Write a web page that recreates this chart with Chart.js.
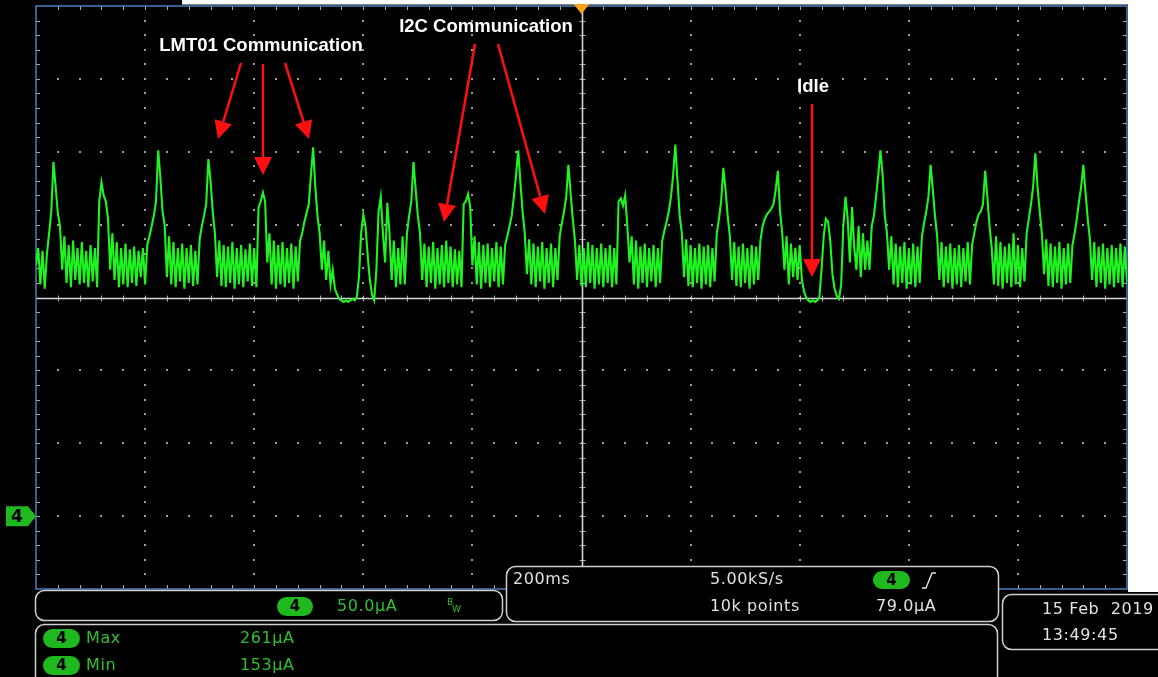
<!DOCTYPE html>
<html>
<head>
<meta charset="utf-8">
<script src="https://cdn.jsdelivr.net/npm/chart.js@4.4.1/dist/chart.umd.min.js"></script>
<style>
  html, body { margin: 0; padding: 0; background: #ffffff; overflow: hidden; }
  canvas { display: block; }
</style>
</head>
<body>
<canvas id="scope" width="1158" height="677"></canvas>
<script>
// Channel 4 supply current (µA), one sample every 4 ms, 200 ms per division
const SAMPLE_MS = 4;
const trace0 = [178,190,165,188,162,186,200,215,249,232, 214,205,175,198,166,192,163,195,168,190, 165,194,166,188,163,192,167,190,163,222, 235,226,222,210,175,200,168,194,163,190, 165,193,163,189,166,191,164,188,170,190];
const trace1 = [165,192,198,205,212,222,257,238,215,205, 170,198,165,194,163,190,167,193,162,190, 166,192,164,188,165,196,205,212,220,251, 236,215,200,170,195,164,192,163,191,166, 194,162,190,165,192,163,189,167,193,164];
const trace2 = [190,163,218,222,228,222,180,200,165,195, 162,192,165,194,163,190,166,193,162,191, 167,195,200,208,214,220,240,259,232,212, 200,175,195,168,188,165,175,162,158,155, 154,153,154,153,154,155,154,156,170,200];
const trace3 = [213,205,185,168,158,154,175,215,225,200, 180,221,200,168,195,163,190,165,198,165, 200,212,222,249,230,212,200,168,193,163, 191,166,194,162,190,165,192,163,195,166, 191,163,189,165,188,163,220,222,227,218];
const trace4 = [178,198,165,194,162,192,166,193,163,190, 167,194,163,191,165,192,198,205,212,225, 240,257,235,215,200,172,196,165,193,163, 191,167,194,162,190,166,193,163,190,168, 198,207,215,225,247,228,210,195,168,192];
const trace5 = [164,190,163,194,166,192,162,190,165,193, 163,190,166,192,163,190,165,222,224,219, 226,205,180,198,165,195,162,191,166,193, 163,190,167,192,163,190,166,195,202,208, 215,225,240,261,236,212,200,170,196,164];
const trace6 = [192,163,190,166,193,162,191,165,192,163, 190,167,200,210,222,245,230,212,198,168, 194,164,191,163,193,166,190,162,192,165, 191,168,195,205,210,213,215,217,220,230, 243,215,200,175,198,165,193,170,190,168];
const trace7 = [192,168,160,156,154,153,154,153,154,156, 175,198,210,208,195,172,162,157,155,165, 205,225,210,180,218,190,175,205,170,200, 175,195,175,205,212,225,240,257,240,212, 200,175,198,165,193,163,191,166,194,162];
const trace8 = [190,165,193,163,191,166,198,207,215,225, 247,230,212,198,168,194,163,191,166,193, 162,190,165,192,163,190,167,194,165,192, 200,208,213,215,220,243,225,205,190,165, 198,164,194,162,191,166,193,163,200,165];
const trace9 = [192,163,190,167,200,210,220,232,255,232, 215,200,172,196,164,193,163,191,166,194, 162,190,165,193,166,192,200,210,222,232, 247,228,210,196,168,194,163,191,166,193, 162,190,165,192,163,190,166,193,163,191, 166];

// Front-panel settings
const TIME_PER_DIV = 200;   // ms
const X_DIVS = 10;
const UA_PER_DIV = 50;      // µA
const Y_DIVS = 8;
const Y_BOTTOM = -44;       // µA at the bottom graticule line
const TIMEBASE_LABEL = '200ms';
const SAMPLE_RATE_LABEL = '5.00kS/s';
const RECORD_LABEL = '10k points';
const SCALE_LABEL = '50.0µA';
const TRIGGER_LABEL = '79.0µA';
const DATE_LABEL = '15 Feb  2019';
const TIME_LABEL = '13:49:45';

const samples = [].concat(trace0, trace1, trace2, trace3, trace4, trace5, trace6, trace7, trace8, trace9);
const points = samples.map((v, i) => ({ x: i * SAMPLE_MS, y: v }));
const maxUA = Math.max(...samples);
const minUA = Math.min(...samples);

const FONT_UI = '"DejaVu Sans", sans-serif';
const FONT_NOTE = '"Liberation Sans", Arial, sans-serif';
const GREEN_TXT = '#2fc02f';
const GREEN_PILL = '#1fb81f';
const FRAME = '#cfcfcf';

function roundRect(ctx, x, y, w, h, r) {
  ctx.beginPath();
  ctx.moveTo(x + r, y);
  ctx.lineTo(x + w - r, y);
  ctx.arcTo(x + w, y, x + w, y + r, r);
  ctx.lineTo(x + w, y + h - r);
  ctx.arcTo(x + w, y + h, x + w - r, y + h, r);
  ctx.lineTo(x + r, y + h);
  ctx.arcTo(x, y + h, x, y + h - r, r);
  ctx.lineTo(x, y + r);
  ctx.arcTo(x, y, x + r, y, r);
  ctx.closePath();
}

function panel(ctx, x, y, w, h) {
  roundRect(ctx, x, y, w, h, 9);
  ctx.fillStyle = '#000';
  ctx.fill();
  ctx.strokeStyle = FRAME;
  ctx.lineWidth = 1.5;
  ctx.stroke();
}

function pill(ctx, x, y, w, h, label) {
  roundRect(ctx, x, y, w, h, h / 2);
  ctx.fillStyle = GREEN_PILL;
  ctx.fill();
  ctx.fillStyle = '#000';
  ctx.font = 'bold 15px ' + FONT_UI;
  ctx.textAlign = 'center';
  ctx.textBaseline = 'middle';
  ctx.fillText(label, x + w / 2, y + h / 2 + 1);
}

function uiText(ctx, s, x, y, color) {
  ctx.fillStyle = color;
  ctx.font = '16px ' + FONT_UI;
  ctx.textAlign = 'left';
  ctx.textBaseline = 'middle';
  ctx.letterSpacing = '0.6px';
  ctx.fillText(s, x, y);
  ctx.letterSpacing = '0px';
}

function arrow(ctx, x1, y1, x2, y2) {
  const ang = Math.atan2(y2 - y1, x2 - x1);
  const len = 18, half = 9;
  const bx = x2 - len * Math.cos(ang), by = y2 - len * Math.sin(ang);
  ctx.strokeStyle = '#ff1010';
  ctx.fillStyle = '#ff1010';
  ctx.lineWidth = 2.5;
  ctx.beginPath();
  ctx.moveTo(x1, y1);
  ctx.lineTo(bx, by);
  ctx.stroke();
  ctx.beginPath();
  ctx.moveTo(x2, y2);
  ctx.lineTo(bx + half * Math.sin(ang), by - half * Math.cos(ang));
  ctx.lineTo(bx - half * Math.sin(ang), by + half * Math.cos(ang));
  ctx.closePath();
  ctx.fill();
}

const screenPlugin = {
  id: 'screen',
  beforeDraw(chart) {
    const ctx = chart.ctx;
    const a = chart.chartArea;
    const L = a.left, R = a.right, T = a.top, B = a.bottom;
    const dx = (R - L) / X_DIVS, dy = (B - T) / Y_DIVS;
    ctx.save();
    ctx.fillStyle = '#000';
    ctx.fillRect(0, 0, chart.width, chart.height);
    // page margin around the captured screen
    ctx.fillStyle = '#ffffff';
    ctx.fillRect(182, 0, chart.width - 182, T - 1.5);
    ctx.fillRect(R + 1, 0, chart.width - R - 1, B + 3);

    // dotted graticule
    ctx.fillStyle = '#9c9c9c';
    for (let i = 1; i < X_DIVS; i++) {
      if (i === X_DIVS / 2) continue;
      const x = Math.round(L + i * dx);
      for (let k = 1; k < Y_DIVS * 5; k++) {
        const y = Math.round(T + k * dy / 5);
        ctx.fillRect(x - 1, y - 1, 2, 2);
      }
    }
    for (let j = 1; j < Y_DIVS; j++) {
      if (j === Y_DIVS / 2) continue;
      const y = Math.round(T + j * dy);
      for (let k = 1; k < X_DIVS * 5; k++) {
        const x = Math.round(L + k * dx / 5);
        ctx.fillRect(x - 1, y - 1, 2, 2);
      }
    }

    // minor ticks along the frame and the centre cross
    const cx = Math.round(L + dx * X_DIVS / 2) + 0.5;
    const cy = Math.round(T + dy * Y_DIVS / 2) + 0.5;
    ctx.strokeStyle = '#a8a8a8';
    ctx.lineWidth = 1;
    ctx.beginPath();
    for (let k = 1; k < Y_DIVS * 5; k++) {
      const y = Math.round(T + k * dy / 5) + 0.5;
      ctx.moveTo(L, y); ctx.lineTo(L + 4, y);
      ctx.moveTo(R - 4, y); ctx.lineTo(R, y);
      ctx.moveTo(cx - 3, y); ctx.lineTo(cx + 3, y);
    }
    for (let k = 1; k < X_DIVS * 5; k++) {
      const x = Math.round(L + k * dx / 5) + 0.5;
      ctx.moveTo(x, T); ctx.lineTo(x, T + 4);
      ctx.moveTo(x, B - 4); ctx.lineTo(x, B);
      ctx.moveTo(x, cy - 3); ctx.lineTo(x, cy + 3);
    }
    ctx.stroke();

    ctx.strokeStyle = '#d6d6d6';
    ctx.lineWidth = 1.6;
    ctx.beginPath();
    ctx.moveTo(cx, T); ctx.lineTo(cx, B);
    ctx.moveTo(L, cy); ctx.lineTo(R, cy);
    ctx.stroke();

    // frame
    ctx.strokeStyle = '#4a7fbf';
    ctx.lineWidth = 1.5;
    ctx.strokeRect(L, T, R - L, B - T);
    ctx.restore();
  },
  afterDraw(chart) {
    const ctx = chart.ctx;
    const a = chart.chartArea;
    const L = a.left, R = a.right, T = a.top, B = a.bottom;
    const dy = (B - T) / Y_DIVS;
    const cx = L + (R - L) / 2;
    ctx.save();

    // trigger position marker
    ctx.fillStyle = '#f4a21e';
    ctx.beginPath();
    ctx.moveTo(cx - 8, T - 2); ctx.lineTo(cx + 8, T - 2); ctx.lineTo(cx, T + 8);
    ctx.closePath(); ctx.fill();

    // channel 4 ground reference marker
    const gy = B - dy;
    ctx.fillStyle = GREEN_PILL;
    ctx.beginPath();
    ctx.moveTo(6, gy - 10); ctx.lineTo(L - 8, gy - 10); ctx.lineTo(L, gy);
    ctx.lineTo(L - 8, gy + 10); ctx.lineTo(6, gy + 10); ctx.closePath(); ctx.fill();
    ctx.fillStyle = '#000';
    ctx.font = 'bold 17px ' + FONT_UI;
    ctx.textAlign = 'center'; ctx.textBaseline = 'middle';
    ctx.fillText('4', 17, gy + 1);

    // annotations
    ctx.fillStyle = '#ffffff';
    ctx.font = 'bold 18.5px ' + FONT_NOTE;
    ctx.textAlign = 'center'; ctx.textBaseline = 'middle';
    ctx.fillText('LMT01 Communication', 261, 46);
    ctx.fillText('I2C Communication', 486, 27);
    ctx.fillText('Idle', 813, 87);
    arrow(ctx, 241, 63, 218, 139);
    arrow(ctx, 263, 64, 263, 175);
    arrow(ctx, 285, 63, 309, 139);
    arrow(ctx, 475, 44, 444, 222);
    arrow(ctx, 498, 44, 545, 214);
    arrow(ctx, 812, 104, 812, 277);

    // vertical scale readout
    panel(ctx, 35.5, 590.5, 467, 30);
    pill(ctx, 277, 597, 36, 19, '4');
    uiText(ctx, SCALE_LABEL, 337, 607, GREEN_TXT);
    ctx.fillStyle = GREEN_TXT;
    ctx.font = '9px ' + FONT_UI; ctx.textAlign = 'left'; ctx.textBaseline = 'middle';
    ctx.fillText('B', 447, 603);
    ctx.fillText('W', 452, 610);

    // horizontal / acquisition / trigger readout
    panel(ctx, 506.5, 566.5, 492, 55);
    uiText(ctx, TIMEBASE_LABEL, 513, 580, '#e2e2e2');
    uiText(ctx, SAMPLE_RATE_LABEL, 710, 580, '#e2e2e2');
    uiText(ctx, RECORD_LABEL, 710, 607, '#e2e2e2');
    pill(ctx, 873, 571, 37, 18, '4');
    ctx.strokeStyle = '#e2e2e2'; ctx.lineWidth = 1.4;
    ctx.beginPath();
    ctx.moveTo(922, 588); ctx.lineTo(926, 588); ctx.lineTo(932, 573); ctx.lineTo(936, 573);
    ctx.stroke();
    uiText(ctx, TRIGGER_LABEL, 876, 607, '#e2e2e2');

    // measurements
    panel(ctx, 35.5, 624.5, 962, 80);
    pill(ctx, 43, 629, 37, 19, '4');
    uiText(ctx, 'Max', 86, 639, GREEN_TXT);
    uiText(ctx, maxUA + 'µA', 240, 639, GREEN_TXT);
    pill(ctx, 43, 656, 37, 19, '4');
    uiText(ctx, 'Min', 86, 666, GREEN_TXT);
    uiText(ctx, minUA + 'µA', 240, 666, GREEN_TXT);

    // date / time
    panel(ctx, 1002.5, 594.5, 180, 55);
    uiText(ctx, DATE_LABEL, 1042, 610, '#e2e2e2');
    uiText(ctx, TIME_LABEL, 1042, 636, '#e2e2e2');
    ctx.restore();
  }
};

new Chart(document.getElementById('scope'), {
  type: 'line',
  data: {
    datasets: [{
      data: points,
      borderColor: '#20f420',
      borderWidth: 2.1,
      pointRadius: 0,
      tension: 0,
      fill: false
    }]
  },
  options: {
    responsive: false,
    animation: false,
    devicePixelRatio: 1,
    layout: { padding: { left: 36, right: 31, top: 6, bottom: 88 } },
    plugins: { legend: { display: false }, tooltip: { enabled: false } },
    scales: {
      x: { type: 'linear', display: false, min: 0, max: TIME_PER_DIV * X_DIVS },
      y: { type: 'linear', display: false, min: Y_BOTTOM, max: Y_BOTTOM + UA_PER_DIV * Y_DIVS }
    }
  },
  plugins: [screenPlugin]
});
</script>
</body>
</html>
